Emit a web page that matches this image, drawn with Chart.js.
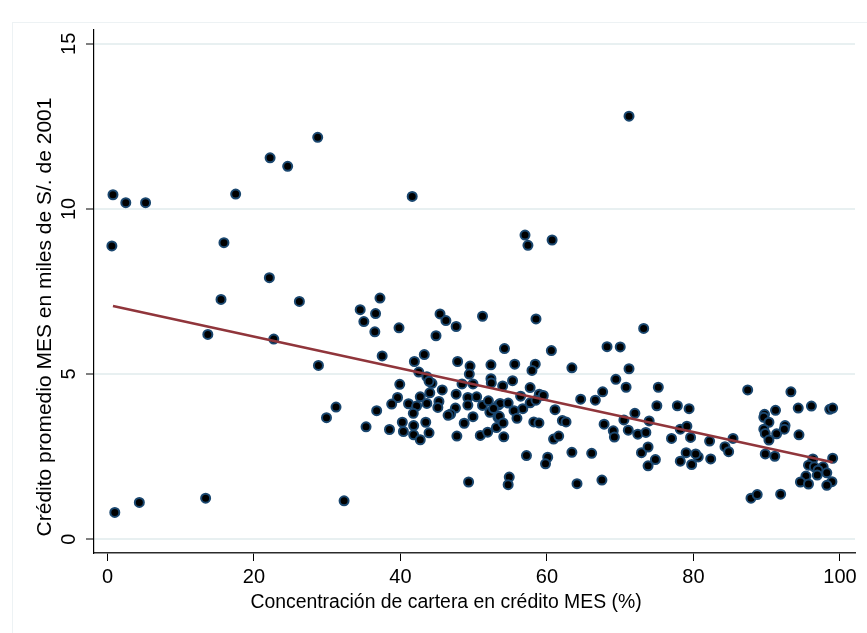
<!DOCTYPE html>
<html lang="es">
<head>
<meta charset="UTF-8">
<title>Crédito promedio MES y concentración de cartera</title>
<script src="https://cdn.jsdelivr.net/npm/chart.js"></script>
<style>
    html, body { margin: 0; padding: 0; background: #fff; }
    #wrap { width: 867px; height: 633px; }
</style>
</head>
<body>
<div id="wrap"><canvas id="scatterChart" width="867" height="633"></canvas></div>

<script>
    // concentración de cartera en crédito MES (%), one entry per institution
    const concentracion = [
        0.75, 2.5, 5.2, 0.6, 1.0, 4.35, 13.4, 32.3, 13.7, 15.5, 15.9, 17.5, 22.2, 24.6, 28.7, 22.1, 22.7, 26.2, 28.8, 29.9, 31.2, 41.6, 71.2, 57.0, 57.4, 60.7,
        34.5, 37.2, 36.6, 35.0, 36.5, 39.8, 37.5, 45.4, 46.2, 47.6, 44.85, 51.2, 58.5, 73.2,
        43.25, 41.9, 47.8, 49.5, 52.35, 42.5, 43.6, 44.3, 43.9, 49.4, 52.35, 52.4, 48.4, 49.9, 39.9, 39.6, 38.8, 41.1, 42.7, 42.2,
        44.0, 43.6, 45.7, 45.25, 45.1, 47.6, 49.2, 50.4, 49.2, 47.5, 46.85, 46.5, 41.75, 40.25, 43.45, 40.4, 41.8, 41.8, 43.9, 42.7,
        48.7, 49.9, 47.7, 50.9, 51.9, 51.2, 52.0, 52.2, 53.3, 53.1, 36.75, 35.3, 38.5, 53.35,
        54.2, 60.6, 68.2, 70.0, 55.6, 58.4, 57.95, 63.4, 71.2, 55.3, 53.95, 57.7, 56.4, 58.95, 59.5, 69.4, 70.8, 67.6, 66.6, 64.6,
        75.2, 75.0, 53.6, 54.7, 57.7, 58.5, 56.7, 55.5, 52.7, 53.5, 55.9, 61.1, 58.2, 58.9, 54.0, 54.1, 62.1, 62.6, 60.9, 61.6,
        67.8, 69.05, 69.2, 70.5, 71.1, 72.0, 72.4, 73.5, 73.95,
        49.3, 54.85, 54.7, 64.1, 67.5, 57.2, 60.1, 59.8, 63.4, 66.1, 72.9, 73.8, 73.8, 74.8,
        77.8, 79.4, 78.2, 79.1, 77.0, 79.6, 82.2, 85.4, 84.3, 84.8, 79.0, 78.2, 79.75, 80.65, 80.3, 82.35,
        87.4, 93.3, 94.3, 96.1, 98.6, 99.0, 89.7, 89.6, 91.2, 90.3, 89.6, 89.8, 91.35, 92.5, 92.4, 90.3, 94.4,
        89.8, 91.1, 87.85, 88.7, 91.9, 96.3, 99.0, 95.7, 96.5, 97.7, 97.0, 98.2, 95.35, 96.9, 94.6, 95.7, 98.9, 98.2
    ];

    // crédito promedio MES, miles de S/. de 2001 (same order as above)
    const creditoPromedio = [
        10.43, 10.19, 10.19, 8.88, 0.81, 1.11, 1.24, 1.16, 6.2, 7.26, 8.98, 10.45, 11.55, 11.29, 12.17, 7.92, 6.06, 7.2, 5.26, 3.68, 4.0, 10.38, 12.81, 9.21, 8.9, 9.06,
        6.95, 7.3, 6.83, 6.59, 6.28, 6.4, 5.55, 6.82, 6.62, 6.44, 6.16, 6.75, 6.67, 6.38,
        5.59, 5.38, 5.38, 5.24, 5.28, 5.06, 4.92, 4.72, 4.78, 5.0, 4.86, 4.73, 4.7, 4.7, 4.69, 4.29, 4.09, 4.1, 4.31, 4.03,
        4.43, 4.11, 4.52, 4.17, 3.99, 4.39, 4.29, 4.31, 4.06, 3.97, 3.79, 3.75, 3.81, 3.54, 3.54, 3.26, 3.44, 3.16, 3.22, 3.01,
        3.51, 3.71, 3.12, 3.14, 3.24, 4.05, 4.19, 3.84, 3.69, 3.38, 3.89, 3.4, 3.32, 4.06,
        5.77, 5.71, 5.83, 5.82, 5.3, 5.3, 5.11, 5.19, 5.16, 4.8, 4.64, 4.59, 4.33, 4.39, 4.35, 4.84, 4.6, 4.46, 4.21, 4.24,
        4.6, 4.04, 4.11, 4.12, 4.13, 4.21, 3.95, 3.89, 3.96, 3.72, 3.66, 3.92, 3.55, 3.52, 3.52, 3.1, 3.59, 3.55, 3.03, 3.12,
        3.48, 3.28, 3.09, 3.61, 3.3, 3.81, 3.18, 3.23, 3.58,
        1.73, 1.88, 1.65, 1.68, 1.79, 2.53, 2.48, 2.28, 2.63, 2.6, 2.62, 2.79, 2.22, 2.41,
        4.04, 3.95, 3.33, 3.42, 3.05, 3.08, 2.97, 3.05, 2.8, 2.65, 2.62, 2.36, 2.26, 2.49, 2.58, 2.43,
        4.52, 4.46, 3.97, 4.03, 3.93, 3.97, 3.78, 3.69, 3.9, 3.54, 3.33, 3.2, 3.19, 3.44, 3.33, 3.0, 3.16,
        2.58, 2.51, 1.24, 1.35, 1.36, 2.43, 2.45, 2.24, 2.19, 2.19, 2.09, 2.01, 1.91, 1.94, 1.73, 1.67, 1.74, 1.63
    ];

    // linear fit, drawn between the smallest and largest concentration
    const ajusteX = [0.75, 99.0];
    const ajusteY = [7.06, 2.33];

    const xTicks = [0, 20, 40, 60, 80, 100];
    const yTicks = [0, 5, 10, 15];

    const xTitle = "Concentración de cartera en crédito MES (%)";
    const yTitle = "Crédito promedio MES en miles de S/. de 2001";

    const FONT = '"Liberation Sans", Arial, sans-serif';

    let puntos = concentracion.map((x, i) => ({ x: x, y: creditoPromedio[i] }));
    let recta = ajusteX.map((x, i) => ({ x: x, y: ajusteY[i] }));

    // axis titles + faint outer frame of the graph region
    const axisTitles = {
        id: 'axisTitles',
        beforeDraw(chart) {
            let ctx = chart.ctx;
            ctx.save();
            ctx.strokeStyle = '#edf2f4';
            ctx.lineWidth = 1;
            ctx.strokeRect(12.5, 22.5, 870, 620);
            ctx.restore();
        },
        afterDraw(chart) {
            let ctx = chart.ctx;
            let area = chart.chartArea;
            ctx.save();
            ctx.fillStyle = '#000';
            ctx.textAlign = 'center';
            ctx.textBaseline = 'middle';
            ctx.font = '19.4px ' + FONT;
            ctx.fillText(xTitle, area.left + 352, 603);
            ctx.translate(45, area.top + 287);
            ctx.rotate(-Math.PI / 2);
            ctx.font = '21px ' + FONT;
            ctx.fillText(yTitle, 0, 0);
            ctx.restore();
        }
    };

    let ctx = document.getElementById("scatterChart").getContext("2d");

    new Chart(ctx, {
        type: "scatter",
        data: {
            datasets: [
                {
                    label: "Ajuste lineal",
                    data: recta,
                    showLine: true,
                    borderColor: "#90353b",
                    borderWidth: 2.5,
                    pointRadius: 0,
                    fill: false
                },
                {
                    label: "Crédito promedio MES",
                    data: puntos,
                    pointRadius: 4.5,
                    pointBackgroundColor: "#000000",
                    pointBorderColor: "#1a476f",
                    pointBorderWidth: 2
                }
            ]
        },
        options: {
            responsive: false,
            animation: false,
            devicePixelRatio: 1,
            layout: { padding: { top: 30, right: 12, left: 0, bottom: 0 } },
            plugins: {
                legend: { display: false },
                tooltip: { enabled: false }
            },
            scales: {
                x: {
                    type: "linear",
                    min: -1.84,
                    max: 102.05,
                    afterBuildTicks: (scale) => { scale.ticks = xTicks.map(v => ({ value: v })); },
                    afterFit: (scale) => { scale.height = 80; },
                    grid: {
                        drawOnChartArea: false,
                        drawTicks: true,
                        tickLength: 8,
                        tickColor: "#000",
                        tickWidth: 1
                    },
                    border: { display: true, color: "#2b2b2b", width: 1.5 },
                    ticks: {
                        color: "#000",
                        padding: 4,
                        maxRotation: 0,
                        font: { family: FONT, size: 20 }
                    }
                },
                y: {
                    type: "linear",
                    min: -0.42,
                    max: 15.42,
                    afterBuildTicks: (scale) => { scale.ticks = yTicks.map(v => ({ value: v })); },
                    afterFit: (scale) => { scale.width = 94; },
                    grid: {
                        color: "#e8f0f1",
                        lineWidth: 2,
                        drawTicks: true,
                        tickLength: 8,
                        tickColor: "#000",
                        tickWidth: 1
                    },
                    border: { display: true, color: "#000", width: 1.2 },
                    ticks: {
                        color: "#000",
                        padding: 5,
                        minRotation: 90,
                        maxRotation: 90,
                        crossAlign: "center",
                        font: { family: FONT, size: 20 }
                    }
                }
            }
        },
        plugins: [axisTitles]
    });
</script>
</body>
</html>
